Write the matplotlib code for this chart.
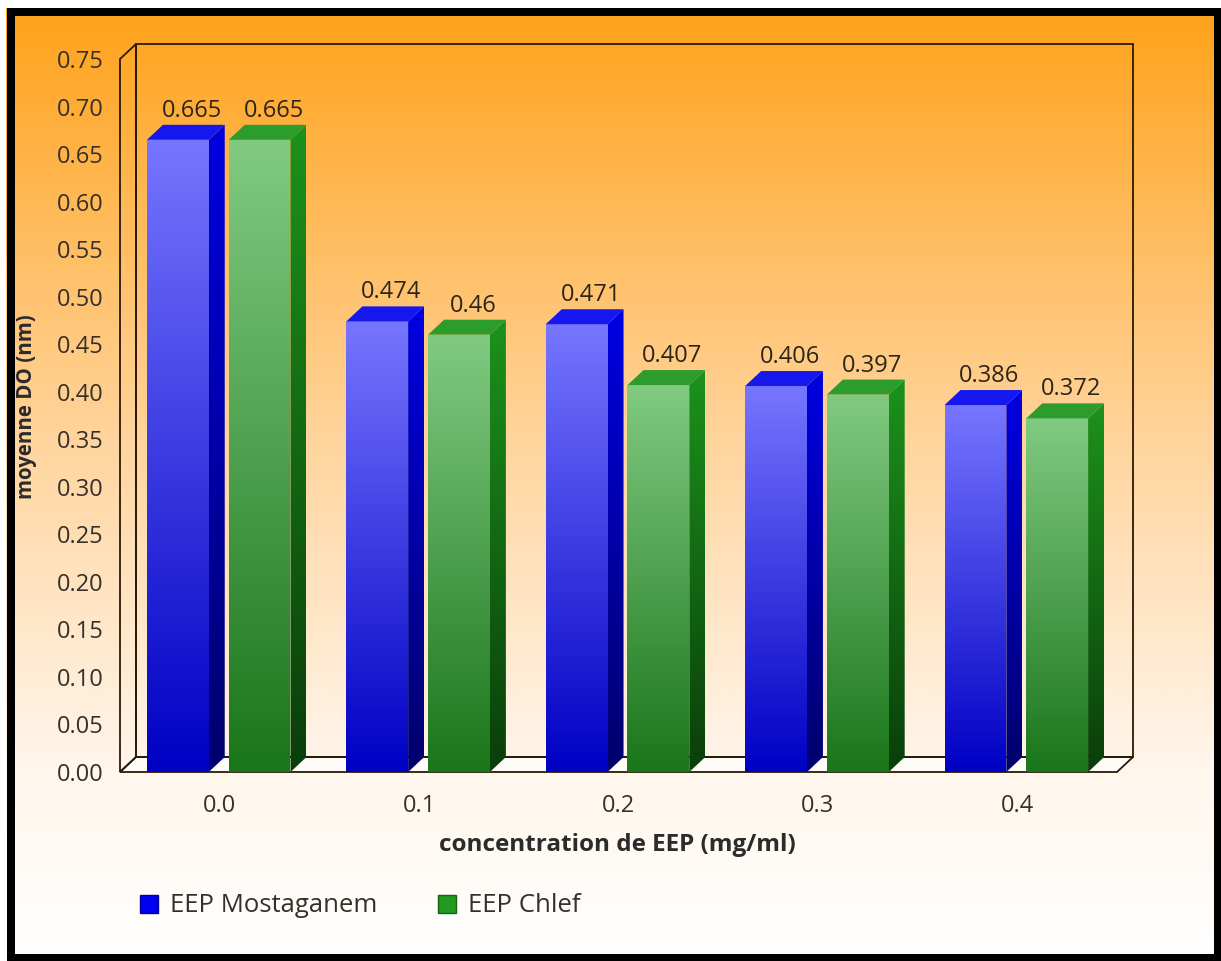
import numpy as np
import matplotlib
matplotlib.use("Agg")
import matplotlib.pyplot as plt
from matplotlib.colors import LinearSegmentedColormap
from matplotlib.patches import Polygon, Rectangle, Patch

plt.rcParams['font.family'] = ['Open Sans', 'DejaVu Sans']

# data
concentrations = ['0.0', '0.1', '0.2', '0.3', '0.4']
series_names = ['EEP Mostaganem', 'EEP Chlef']
mostaganem = [0.665, 0.474, 0.471, 0.406, 0.386]
chlef = [0.665, 0.46, 0.407, 0.397, 0.372]
y_ticks = [0.00, 0.05, 0.10, 0.15, 0.20, 0.25, 0.30, 0.35, 0.40, 0.45,
           0.50, 0.55, 0.60, 0.65, 0.70, 0.75]

W, H = 1221, 961
fig = plt.figure(figsize=(W / 100, H / 100), dpi=100)
fig.patch.set_facecolor('white')

# orange -> white background
bg = fig.add_axes([6 / W, 0, 1 - 6 / W, 1 - 8 / H], zorder=-10)
bg_cmap = LinearSegmentedColormap.from_list(
    'bg', [(0, '#ffa21a'), (0.45, '#ffd49c'), (0.8, '#fff6ec'), (1, '#ffffff')])
bg.imshow(np.linspace(0, 1, 512).reshape(-1, 1), cmap=bg_cmap, aspect='auto',
          extent=[0, 1, 0, 1], origin='upper')
bg.axis('off')

# front plane of the 3d box
ax_l, ax_r, ax_b, ax_t = 120, 1117, 772, 59
ax = fig.add_axes([ax_l / W, 1 - ax_b / H, (ax_r - ax_l) / W, (ax_b - ax_t) / H])
ax.set_facecolor('none')
for s in ax.spines.values():
    s.set_visible(False)

xmin, xmax, ymin, ymax = -0.5, 4.5, 0.0, 0.75
px_x = (ax_r - ax_l) / (xmax - xmin)
px_y = (ax_b - ax_t) / (ymax - ymin)
ddx = 16 / px_x
ddy = 15 / px_y

line_c = '#2a1a08'
txt_c = '#35302a'

# floor, side wall and back wall
floor = Polygon([(xmin, 0), (xmax, 0), (xmax + ddx, ddy), (xmin + ddx, ddy)],
                closed=True, facecolor='#fefcf8', edgecolor=line_c, lw=1.3,
                zorder=1, clip_on=False)
ax.add_patch(floor)
side = Polygon([(xmin, 0), (xmin, ymax), (xmin + ddx, ymax + ddy), (xmin + ddx, ddy)],
               closed=True, facecolor='none', edgecolor=line_c, lw=1.3,
               zorder=1, clip_on=False)
ax.add_patch(side)
back = Rectangle((xmin + ddx, ddy), xmax - xmin, ymax, facecolor='none',
                 edgecolor=line_c, lw=1.3, zorder=1, clip_on=False)
ax.add_patch(back)


def grad_poly(pts, c_top, c_bot, y0, y1, z):
    cmap = LinearSegmentedColormap.from_list('g', [c_bot, c_top])
    xs = [p[0] for p in pts]
    img = ax.imshow(np.linspace(0, 1, 256).reshape(-1, 1), cmap=cmap, origin='lower',
                    aspect='auto', extent=[min(xs), max(xs), y0, y1], zorder=z)
    clip = Polygon(pts, closed=True, facecolor='none', edgecolor='none',
                   transform=ax.transData)
    ax.add_patch(clip)
    img.set_clip_path(clip)


bar_w = 0.31
offsets = [-0.21, 0.20]
styles = [
    dict(front=('#7676ff', '#0000c4'), side=('#0000e2', '#00006c'), top='#1616ee'),
    dict(front=('#82ca82', '#1a761a'), side=('#1c921c', '#0a3e0a'), top='#2c9c2c'),
]

for j, vals in enumerate([mostaganem, chlef]):
    st = styles[j]
    for i, v in enumerate(vals):
        xl = i + offsets[j] - bar_w / 2
        xr = xl + bar_w
        z = 3 + i * 0.1 + j * 0.01
        grad_poly([(xl, 0), (xr, 0), (xr, v), (xl, v)], *st['front'], 0, v, z)
        grad_poly([(xr, 0), (xr + ddx, ddy), (xr + ddx, v + ddy), (xr, v)],
                  *st['side'], 0, v + ddy, z)
        ax.add_patch(Polygon([(xl, v), (xr, v), (xr + ddx, v + ddy), (xl + ddx, v + ddy)],
                             closed=True, facecolor=st['top'], edgecolor='none', zorder=z))
        ax.annotate('{:g}'.format(v), xy=(i + offsets[j], v), xytext=(14 * 0.72, 23 * 0.72),
                    textcoords='offset points', ha='center', va='baseline',
                    fontsize=17, color='#2b2418', zorder=10)

ax.set_xlim(xmin, xmax)
ax.set_ylim(ymin, ymax)
ax.set_xticks(range(len(concentrations)))
ax.set_xticklabels(concentrations)
ax.set_yticks(y_ticks)
ax.set_yticklabels(['{:.2f}'.format(t) for t in y_ticks])
ax.tick_params(axis='y', length=0, pad=12, labelsize=17, labelcolor=txt_c)
ax.tick_params(axis='x', length=0, pad=16, labelsize=17, labelcolor=txt_c)

fig.text(617 / W, 1 - 845 / H, 'concentration de EEP (mg/ml)', ha='center', va='center',
         fontsize=17.5, fontweight='bold', color='#2b2b2b')
fig.text(27 / W, 1 - 407 / H, 'moyenne DO (nm)', ha='center', va='center', rotation=90,
         fontsize=14.8, fontweight='bold', color='#2b2b2b')

handles = [Patch(facecolor='#0000f0', edgecolor='#00009a'),
           Patch(facecolor='#229a22', edgecolor='#116611')]
fig.legend(handles, series_names, loc='center left', bbox_to_anchor=(140 / W, 1 - 906 / H),
           ncol=2, frameon=False, fontsize=18.5, handlelength=0.70, handleheight=0.70,
           handletextpad=0.47, columnspacing=2.37, borderpad=0, borderaxespad=0,
           labelcolor=txt_c)

# outer black frame
fig.patches.append(Rectangle((10.5 / W, 3 / H), 1207 / W, 946 / H, transform=fig.transFigure,
                             facecolor='none', edgecolor='black', lw=8 * 0.72, zorder=20))

fig.savefig('out.png', dpi=100)
